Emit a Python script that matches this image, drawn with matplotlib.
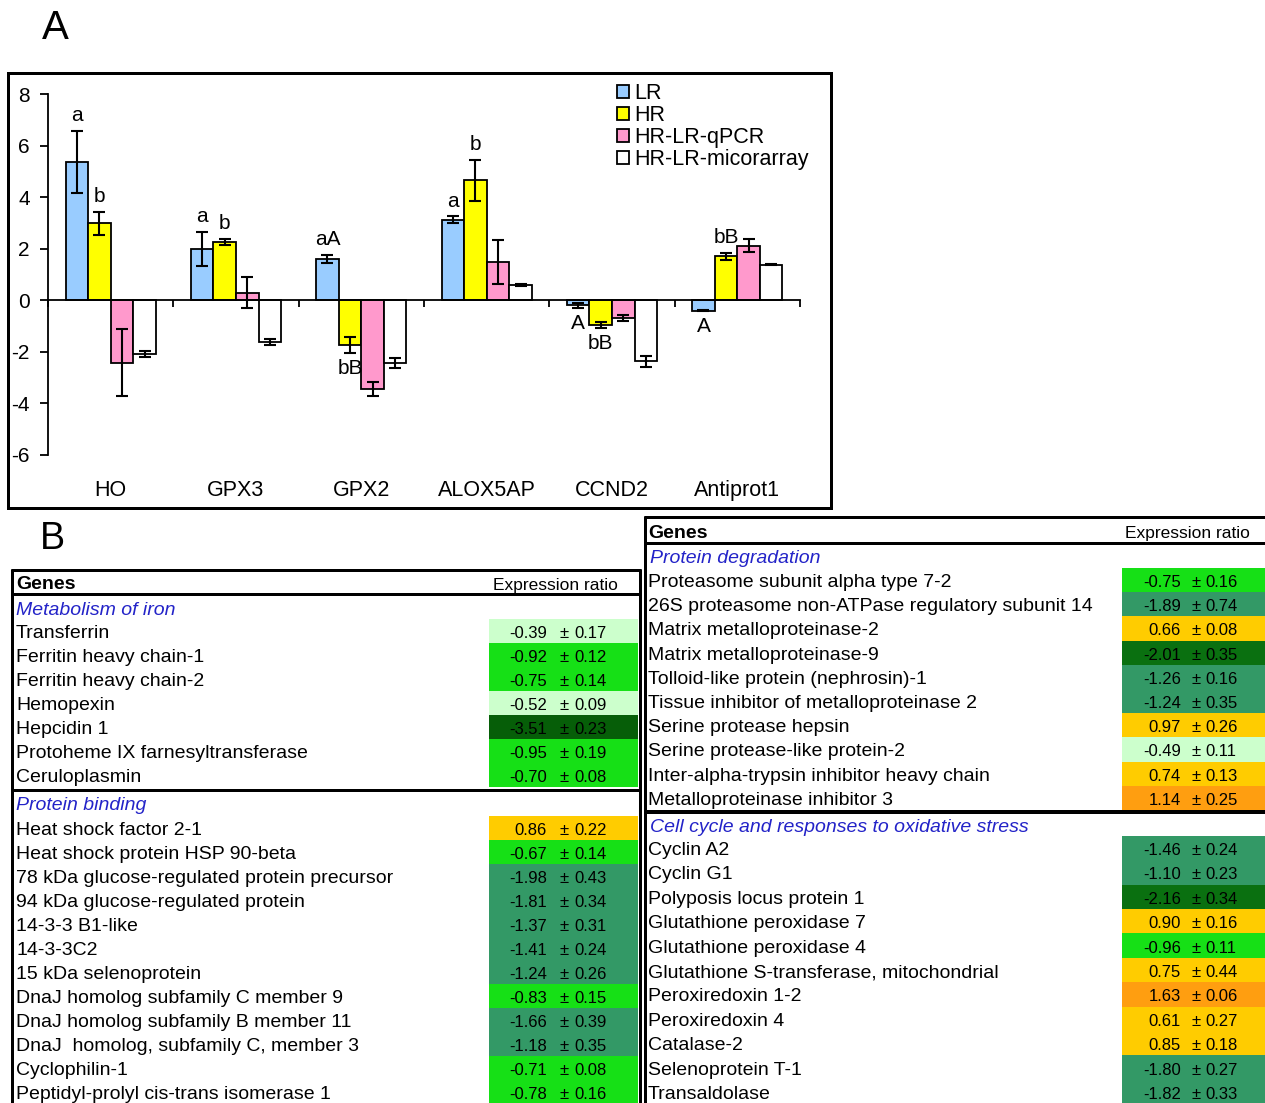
import numpy as np
import matplotlib.pyplot as plt
from matplotlib.patches import Rectangle
import matplotlib.transforms as mtransforms

plt.rcParams['font.family'] = ['Liberation Sans', 'DejaVu Sans']

# ---------------- panel A data ----------------
genes = ['HO', 'GPX3', 'GPX2', 'ALOX5AP', 'CCND2', 'Antiprot1']
series = ['LR', 'HR', 'HR-LR-qPCR', 'HR-LR-micorarray']
lr = [5.38, 1.98, 1.60, 3.12, -0.20, -0.40]
lr_err = [1.20, 0.66, 0.15, 0.13, 0.10, 0.03]
hr = [2.99, 2.25, -1.73, 4.65, -0.95, 1.70]
hr_err = [0.45, 0.12, 0.31, 0.80, 0.12, 0.15]
qpcr = [-2.43, 0.30, -3.43, 1.47, -0.69, 2.12]
qpcr_err = [1.30, 0.60, 0.27, 0.85, 0.12, 0.25]
micro = [-2.09, -1.63, -2.43, 0.59, -2.37, 1.37]
micro_err = [0.12, 0.12, 0.20, 0.05, 0.20, 0.02]
bar_colors = ['#99ccff', '#ffff00', '#ff99cc', '#ffffff']

# significance letters: (gene index, series index, text)
letters = [(0, 0, 'a'), (0, 1, 'b'), (1, 0, 'a'), (1, 1, 'b'),
           (2, 0, 'aA'), (2, 1, 'bB'), (3, 0, 'a'), (3, 1, 'b'),
           (4, 0, 'A'), (4, 1, 'bB'), (5, 0, 'A'), (5, 1, 'bB')]

# ---------------- panel B data ----------------
iron_genes = ['Transferrin', 'Ferritin heavy chain-1', 'Ferritin heavy chain-2',
              'Hemopexin', 'Hepcidin 1', 'Protoheme IX farnesyltransferase',
              'Ceruloplasmin']
iron_vals = [-0.39, -0.92, -0.75, -0.52, -3.51, -0.95, -0.70]
iron_errs = [0.17, 0.12, 0.14, 0.09, 0.23, 0.19, 0.08]

binding_genes = ['Heat shock factor 2-1', 'Heat shock protein HSP 90-beta',
                 '78 kDa glucose-regulated protein precursor',
                 '94 kDa glucose-regulated protein', '14-3-3 B1-like', '14-3-3C2',
                 '15 kDa selenoprotein', 'DnaJ homolog subfamily C member 9',
                 'DnaJ homolog subfamily B member 11',
                 'DnaJ  homolog, subfamily C, member 3', 'Cyclophilin-1',
                 'Peptidyl-prolyl cis-trans isomerase 1']
binding_vals = [0.86, -0.67, -1.98, -1.81, -1.37, -1.41, -1.24, -0.83, -1.66, -1.18, -0.71, -0.78]
binding_errs = [0.22, 0.14, 0.43, 0.34, 0.31, 0.24, 0.26, 0.15, 0.39, 0.35, 0.08, 0.16]

degr_genes = ['Proteasome subunit alpha type 7-2',
              '26S proteasome non-ATPase regulatory subunit 14',
              'Matrix metalloproteinase-2', 'Matrix metalloproteinase-9',
              'Tolloid-like protein (nephrosin)-1',
              'Tissue inhibitor of metalloproteinase 2', 'Serine protease hepsin',
              'Serine protease-like protein-2',
              'Inter-alpha-trypsin inhibitor heavy chain', 'Metalloproteinase inhibitor 3']
degr_vals = [-0.75, -1.89, 0.66, -2.01, -1.26, -1.24, 0.97, -0.49, 0.74, 1.14]
degr_errs = [0.16, 0.74, 0.08, 0.35, 0.16, 0.35, 0.26, 0.11, 0.13, 0.25]

cycle_genes = ['Cyclin A2', 'Cyclin G1', 'Polyposis locus protein 1',
               'Glutathione peroxidase 7', 'Glutathione peroxidase 4',
               'Glutathione S-transferase, mitochondrial', 'Peroxiredoxin 1-2',
               'Peroxiredoxin 4', 'Catalase-2', 'Selenoprotein T-1', 'Transaldolase']
cycle_vals = [-1.46, -1.10, -2.16, 0.90, -0.96, 0.75, 1.63, 0.61, 0.85, -1.80, -1.82]
cycle_errs = [0.24, 0.23, 0.34, 0.16, 0.11, 0.44, 0.06, 0.27, 0.18, 0.27, 0.33]


def cell_color(v):
    if v > 1.0:
        return '#ff9e10'
    if v > 0:
        return '#ffcc00'
    if v > -0.6:
        return '#ccffcc'
    if v > -1.0:
        return '#16e016'
    if v > -2.0:
        return '#339966'
    if v > -3.0:
        return '#0a7010'
    return '#065e08'


W, H = 1265, 1103
fig = plt.figure(figsize=(W / 100, H / 100), dpi=100)
bg = fig.add_axes([0, 0, 1, 1], zorder=0)
bg.set_xlim(0, W)
bg.set_ylim(H, 0)
bg.axis('off')

px = 72 / 100  # one pixel in points

# ---------------- panel A ----------------
bg.text(55, 28, 'A', fontsize=29, ha='center', va='center')
bg.add_patch(Rectangle((8, 73), 823, 435, fill=False, lw=3 * px, ec='black'))

ax = fig.add_axes([48 / W, 1 - 455 / H, 752 / W, 361 / H], zorder=2)
ax.patch.set_alpha(0)
x = np.arange(len(genes))
w = 0.18
vals = [lr, hr, qpcr, micro]
errs = [lr_err, hr_err, qpcr_err, micro_err]
for k in range(4):
    ax.bar(x + (k - 1.5) * w, vals[k], w, color=bar_colors[k], edgecolor='black',
           lw=1.3, label=series[k], zorder=2)
    ax.errorbar(x + (k - 1.5) * w, vals[k], yerr=errs[k], fmt='none', ecolor='black',
                elinewidth=1.5, capsize=4.5, capthick=1.5, zorder=3)

for g, s, t in letters:
    v = vals[s][g]
    e = errs[s][g]
    if v >= 0:
        ax.annotate(t, (x[g] + (s - 1.5) * w, v + e), xytext=(0, 11), textcoords='offset points',
                    ha='center', va='center', fontsize=15)
    else:
        ax.annotate(t, (x[g] + (s - 1.5) * w, v - e), xytext=(0, -11), textcoords='offset points',
                    ha='center', va='center', fontsize=15)

ax.set_xlim(-0.5, 5.5)
ax.set_ylim(-6, 8)
ax.set_yticks(np.arange(-6, 9, 2))
ax.set_yticklabels([str(v) for v in range(-6, 9, 2)])
ax.tick_params(axis='y', length=6, width=1.3, labelsize=15, pad=7)
ax.set_xticks(np.arange(-0.5, 6, 1))
ax.set_xticklabels([])
ax.tick_params(axis='x', length=5, width=1.3, direction='out')
ax.spines['top'].set_visible(False)
ax.spines['right'].set_visible(False)
ax.spines['bottom'].set_position(('data', 0))
ax.spines['left'].set_linewidth(1.3)
ax.spines['bottom'].set_linewidth(1.3)
trans = mtransforms.blended_transform_factory(ax.transData, ax.transAxes)
for i, g in enumerate(genes):
    ax.text(i, -0.097, g, transform=trans, ha='center', va='center', fontsize=15.5)

ax.legend(loc='upper left', bbox_to_anchor=(0.757, 1.03), frameon=False, fontsize=15.5,
          handlelength=0.55, handleheight=0.55, handletextpad=0.25, labelspacing=0.05,
          borderpad=0, borderaxespad=0)

# ---------------- panel B ----------------
bg.text(52, 539, 'B', fontsize=27, ha='center', va='center')

name_fs = 14
val_fs = 12
blue = '#2323c8'
dy = 2.5  # text baseline nudge


def draw_section(names, v, e, y0, step, name_x, c0, c1, val_r, pm_x, err_l):
    for i in range(len(names)):
        yc = y0 + i * step
        bg.add_patch(Rectangle((c0, yc - step / 2), c1 - c0, step, color=cell_color(v[i]), lw=0))
        bg.text(name_x, yc + dy, names[i], fontsize=name_fs, ha='left', va='center')
        bg.text(val_r, yc + dy, '%.2f' % v[i], fontsize=val_fs, ha='right', va='center')
        bg.text(pm_x, yc + dy, '\u00b1', fontsize=val_fs, ha='center', va='center')
        bg.text(err_l, yc + dy, '%.2f' % e[i], fontsize=val_fs, ha='left', va='center')


def hline(y, x0, x1, lw):
    bg.plot([x0, x1], [y, y], color='black', lw=lw * px, solid_capstyle='butt')


def vline(xx, y0, y1, lw):
    bg.plot([xx, xx], [y0, y1], color='black', lw=lw * px, solid_capstyle='butt')


# left table
hline(570, 11, 641, 3)
hline(594, 11, 641, 3)
hline(790, 11, 641, 3)
vline(12, 569, H, 3)
vline(640, 569, H, 3)
bg.text(16, 582 + dy, 'Genes', fontsize=14, fontweight='bold', ha='left', va='center')
bg.text(555, 583 + dy, 'Expression ratio', fontsize=12.5, ha='center', va='center')
bg.text(16, 608 + dy, 'Metabolism of iron', fontsize=name_fs, style='italic', color=blue,
        ha='left', va='center')
draw_section(iron_genes, iron_vals, iron_errs, 631, 24, 16, 489, 638, 547, 564, 574)
bg.text(16, 803 + dy, 'Protein binding', fontsize=name_fs, style='italic', color=blue,
        ha='left', va='center')
draw_section(binding_genes, binding_vals, binding_errs, 828, 24, 16, 489, 638, 547, 564, 574)

# right table
hline(517, 644, W, 3)
hline(543, 644, W, 3)
hline(812, 644, W, 4)
vline(645, 516, H, 3)
bg.text(648, 531 + dy, 'Genes', fontsize=14, fontweight='bold', ha='left', va='center')
bg.text(1187, 531 + dy, 'Expression ratio', fontsize=12.5, ha='center', va='center')
bg.text(650, 556 + dy, 'Protein degradation', fontsize=name_fs, style='italic', color=blue,
        ha='left', va='center')
draw_section(degr_genes, degr_vals, degr_errs, 580, 24.2, 648, 1122, W, 1181, 1196, 1205)
bg.text(650, 825 + dy, 'Cell cycle and responses to oxidative stress', fontsize=name_fs,
        style='italic', color=blue, ha='left', va='center')
draw_section(cycle_genes, cycle_vals, cycle_errs, 848, 24.4, 648, 1122, W, 1181, 1196, 1205)

fig.savefig('out.png', dpi=100)
